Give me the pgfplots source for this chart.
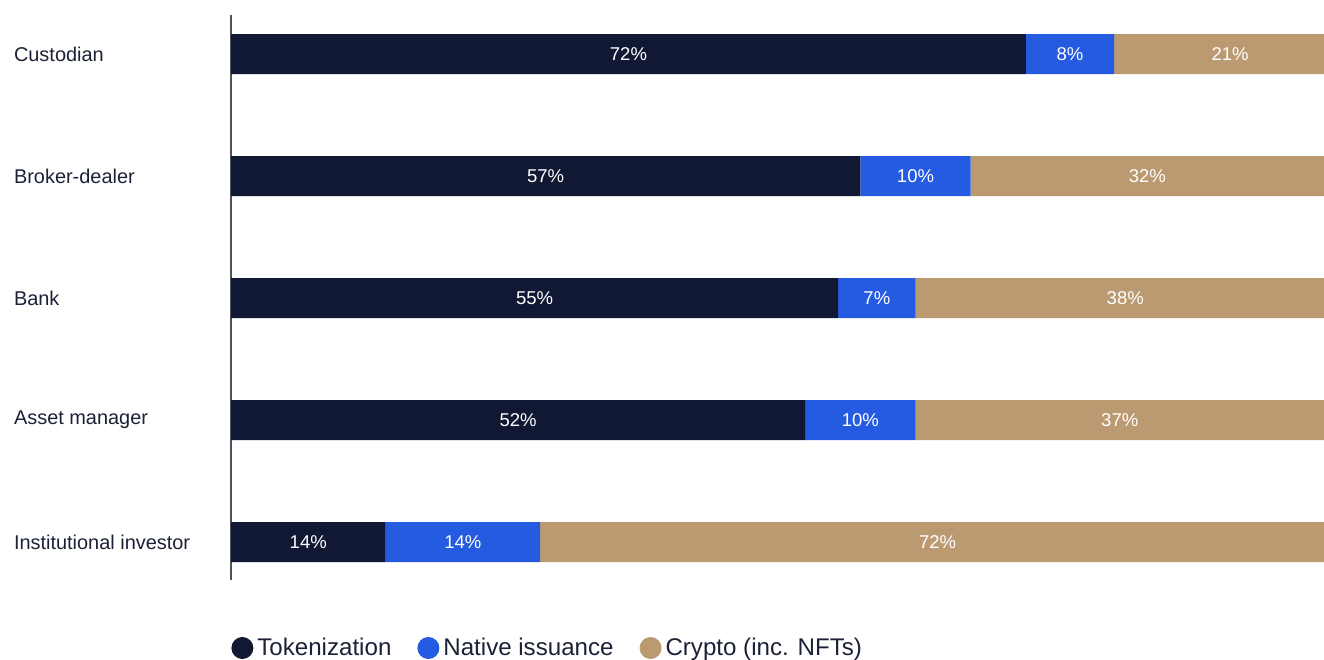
\documentclass[border=0pt]{standalone}
\usepackage{fontspec}
\setmainfont{Liberation Sans}
\usepackage{pgfplots}
\pgfplotsset{compat=1.18}
\usepackage{pgfplotstable}
\usetikzlibrary{calc}

\definecolor{navy}{HTML}{111833}
\definecolor{blueiss}{HTML}{245BE0}
\definecolor{tan}{HTML}{BB9A72}
\definecolor{labeltext}{HTML}{1C2136}
\definecolor{axisgray}{HTML}{4D5160}

% share of respondents by role (%)
\pgfplotstableread{
pos tok nat cry
4 72 8 21
3 57 10 32
2 55 7 38
1 52 10 37
0 14 14 72
}\shares

\pgfplotsset{
  base/.style={
    scale only axis, width=546.5bp, height=282.5bp,
    xmin=0, xmax=99, ymin=-0.31, ymax=4.32,
  },
  pct/.style={draw=none, mark=none, point meta=explicit,
    /pgf/number format/assume math mode=true,
    nodes near coords={\pgfmathprintnumber{\pgfplotspointmeta}\%},
    every node near coord/.style={anchor=center, text=white,
      font=\fontsize{9.3}{11}\selectfont}},
  dot/.style={legend image code/.code={\fill[#1] (5.5bp,0bp) circle (5.5bp);}},
}

\begin{document}
\begin{tikzpicture}
\begin{axis}[base,
  xbar stacked, bar width=20bp,
  axis x line=none, axis y line*=left,
  axis line style={axisgray, line width=0.75bp},
  ytick={0,...,4},
  yticklabels={Institutional investor, Asset manager, Bank, Broker-dealer, Custodian},
  major tick length=0pt,
  yticklabel style={anchor=west, xshift=-112bp, text=labeltext,
    font=\fontsize{10}{12}\selectfont},
  legend columns=-1,
  legend style={at={(rel axis cs:0,0)}, anchor=west, yshift=-34bp,
    draw=none, fill=none, inner sep=0pt, text=labeltext,
    font=\fontsize{12.1}{14}\selectfont,
    /tikz/every even column/.append style={column sep=11bp}},
]
\addplot[fill=navy, draw=none, dot=navy] table[x=tok, y=pos]{\shares};
\addlegendentry{Tokenization}
\addplot[fill=blueiss, draw=none, dot=blueiss] table[x=nat, y=pos]{\shares};
\addlegendentry{Native issuance}
\addplot[fill=tan, draw=none, dot=tan] table[x=cry, y=pos]{\shares};
\addlegendentry{Crypto (inc. NFTs)}
\coordinate (sw) at (rel axis cs:0,0);
\coordinate (ne) at (rel axis cs:1,1);
\end{axis}

\begin{axis}[base, hide axis]
\addplot[pct] table[x expr=\thisrow{tok}/2, y=pos, meta=tok]{\shares};
\addplot[pct] table[x expr=\thisrow{tok}+\thisrow{nat}/2, y=pos, meta=nat]{\shares};
\addplot[pct] table[x expr=\thisrow{tok}+\thisrow{nat}+\thisrow{cry}/2, y=pos, meta=cry]{\shares};
\end{axis}

\pgfresetboundingbox
\path[use as bounding box] ($(sw)+(-115.5bp,-39.5bp)$) rectangle ($(ne)+(0,7.5bp)$);
\end{tikzpicture}
\end{document}
